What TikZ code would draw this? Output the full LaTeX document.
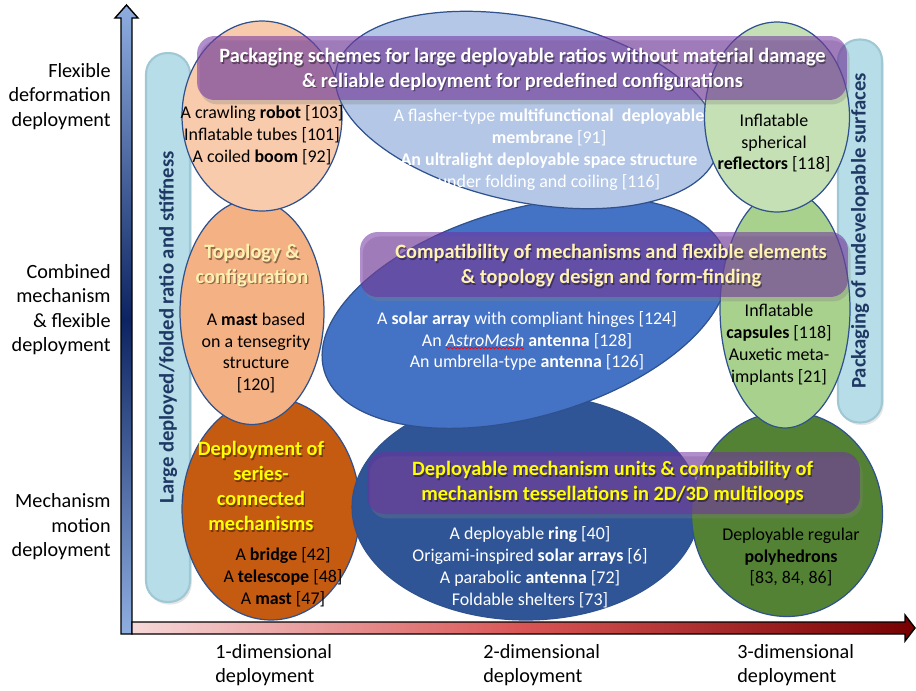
\documentclass[tikz,border=0pt]{standalone}
\usepackage{fontspec}
\setmainfont{Carlito}
\usepackage{tikz}
\usetikzlibrary{shapes.geometric,shadows,decorations.pathmorphing}
\definecolor{orangeL}{HTML}{F8CBAD}
\definecolor{orangeM}{HTML}{F4B183}
\definecolor{orangeD}{HTML}{C55A11}
\definecolor{blueL}{HTML}{B4C7E7}
\definecolor{blueM}{HTML}{4472C4}
\definecolor{blueD}{HTML}{2F5597}
\definecolor{greenL}{HTML}{C5E0B4}
\definecolor{greenM}{HTML}{A9D18E}
\definecolor{greenD}{HTML}{548235}
\definecolor{elline}{HTML}{2F528F}
\definecolor{bnpurple}{HTML}{7030A0}
\definecolor{barfill}{HTML}{B7DEE8}
\definecolor{baredge}{HTML}{A0C8D4}
\definecolor{barnavy}{HTML}{1F3864}
\definecolor{paleyel}{HTML}{FFF2B0}
\definecolor{brightyel}{HTML}{FFFF00}
\definecolor{axlight}{HTML}{8FAEE0}
\definecolor{axdark}{HTML}{0C2461}
\definecolor{axpink}{HTML}{F6D8D8}
\definecolor{axred}{HTML}{D95555}
\definecolor{axmaroon}{HTML}{760000}
% bold heading with a soft dark shadow under it
\newcommand{\shadowed}[4]{%
  \node[hd,#2,text=black,text opacity=.4,xshift=.7pt,yshift=-.9pt] (#1s) at #3 {#4};
  \node[hd,#2] (#1) at #3 {#4};}

\begin{document}
\begin{tikzpicture}[x=0.02cm,y=-0.02cm,
  el/.style={ellipse,draw=elline,line width=0.7pt,inner sep=0pt},
  bn/.style={rectangle,rounded corners=10pt,fill=bnpurple,fill opacity=.55,
             drop shadow={opacity=.3,shadow xshift=1.5pt,shadow yshift=-2.5pt}},
  bar/.style={rectangle,rounded corners=12pt,fill=barfill,draw=baredge,line width=1.2pt,minimum width=0.88cm,
              drop shadow={opacity=.2,shadow xshift=1pt,shadow yshift=-1.5pt}},
  bartx/.style={rotate=90,text=barnavy,font=\fontsize{11.8}{13}\selectfont\bfseries,inner sep=0pt},
  tx/.style={align=center,font=\fontsize{10.2}{12.5}\selectfont,inner sep=0pt},
  hd/.style={align=center,font=\fontsize{11.6}{14.2}\selectfont\bfseries,inner sep=0pt},
  lab/.style={font=\fontsize{11.5}{13.9}\selectfont,inner sep=0pt},
  axline/.style={draw=black,line width=0.8pt}]
\useasboundingbox (0,0) rectangle (916,690);
% axes
\draw[axline,top color=axlight,bottom color=axlight,middle color=axdark]
  (121,634) -- (121,18) -- (115,18) -- (126.5,5) -- (138,18) -- (132,18) -- (132,634) -- cycle;
\draw[axline,left color=axpink,right color=axmaroon,middle color=axred]
  (132,622) -- (905,622) -- (905,615) -- (915,628) -- (905,641) -- (905,634) -- (132,634) -- cycle;
% side bars
\node[bar,minimum height=10.98cm] (barL) at (168,327.5) {};
\node[bar,minimum height=7.66cm] (barR) at (860,231) {};
\node[bartx] (barLt) at (barL) {Large deployed/folded ratio and stiffness};
\node[bartx] (barRt) at (barR) {Packaging of undevelopable surfaces};
% ellipses, bottom row first
\foreach \n/\c/\x/\y/\w/\h/\r in {DO/orangeD/271/509/3.56/4.44/0, DB/blueD/526/507/6.96/4.52/0, DG/greenD/787/514/3.82/4.1/0,
  MO/orangeM/252/312/2.88/4.5/0, MB/blueM/525/313/8.36/4.16/16, MG/greenM/785/309/2.6/4.76/0,
  PE/orangeL/262/116/3.2/3.8/0, LB/blueL/527/110/7.8/3.68/-12, LG/greenL/777/117/2.9/3.8/0}
  \node[el,fill=\c,minimum width=\w cm,minimum height=\h cm,rotate=\r] (\n) at (\x,\y) {};
% ellipse texts
\node[tx] (PEt) at (262,135) {A crawling \textbf{robot} [103]\\Inflatable tubes [101]\\A coiled \textbf{boom} [92]};
\shadowed{MOh}{text=paleyel}{(252,265.5)}{Topology \&\\configuration}
\node[tx] (MOt) at (256,353) {A \textbf{mast} based\\on a tensegrity\\structure\\{[120]}};
\shadowed{DOh}{text=brightyel}{(261,486)}{Deployment of\\series-\\connected\\mechanisms}
\node[tx] (DOt) at (283,577) {A \textbf{bridge} [42]\\A \textbf{telescope} [48]\\A \textbf{mast} [47]};
\node[tx,text=white] (LBt) at (549,149.5) {A flasher-type \textbf{multifunctional\ \ deployable}\\\textbf{membrane} [91]\\\textbf{An ultralight deployable space structure}\\under folding and coiling [116]};
\node[tx,text=white] (MBt) at (527,341) {A \textbf{solar array} with compliant hinges [124]\\An \textit{AstroMesh} \textbf{antenna} [128]\\An umbrella-type \textbf{antenna} [126]};
\draw[red,line width=0.4pt,decorate,decoration={snake,segment length=2pt,amplitude=0.5pt}] (446,348) -- (524,348);
\node[tx,text=white] (DBt) at (530,567) {A deployable \textbf{ring} [40]\\Origami-inspired \textbf{solar arrays} [6]\\A parabolic \textbf{antenna} [72]\\Foldable shelters [73]};
\node[tx] (LGt) at (774,143) {Inflatable\\spherical\\\textbf{reflectors} [118]};
\node[tx] (MGt) at (779,345) {Inflatable\\\textbf{capsules} [118]\\Auxetic meta-\\implants [21]};
\node[tx] (DGt) at (791,557) {Deployable regular\\\textbf{polyhedrons}\\{[83, 84, 86]}};
% banners
\node[bn,minimum width=13cm,minimum height=1.28cm] (B1) at (522,68) {};
\node[bn,minimum width=9.76cm,minimum height=1.3cm] (B2) at (604,264.5) {};
\node[bn,minimum width=9.86cm,minimum height=1.24cm] (B3) at (613.5,483) {};
\shadowed{B1t}{text=white}{(522.5,69.5)}{Packaging schemes for large deployable ratios without material damage\\\& reliable deployment for predefined configurations}
\shadowed{B2t}{text=paleyel}{(611,265.5)}{Compatibility of mechanisms and flexible elements\\\& topology design and form-finding}
\shadowed{B3t}{text=brightyel}{(612.5,482.5)}{Deployable mechanism units \& compatibility of\\mechanism tessellations in 2D/3D multiloops}
% axis labels
\node[lab,anchor=east,align=right] (rowF) at (111,96.5) {Flexible\\deformation\\deployment};
\node[lab,anchor=east,align=right] (rowC) at (111,309.5) {Combined\\mechanism\\\& flexible\\deployment};
\node[lab,anchor=east,align=right] (rowM) at (111,527) {Mechanism\\motion\\deployment};
\node[lab,anchor=west,align=left] (col1) at (215,665) {1-dimensional\\deployment};
\node[lab,anchor=west,align=left] (col2) at (483,665) {2-dimensional\\deployment};
\node[lab,anchor=west,align=left] (col3) at (737,665) {3-dimensional\\deployment};
\end{tikzpicture}
\end{document}
